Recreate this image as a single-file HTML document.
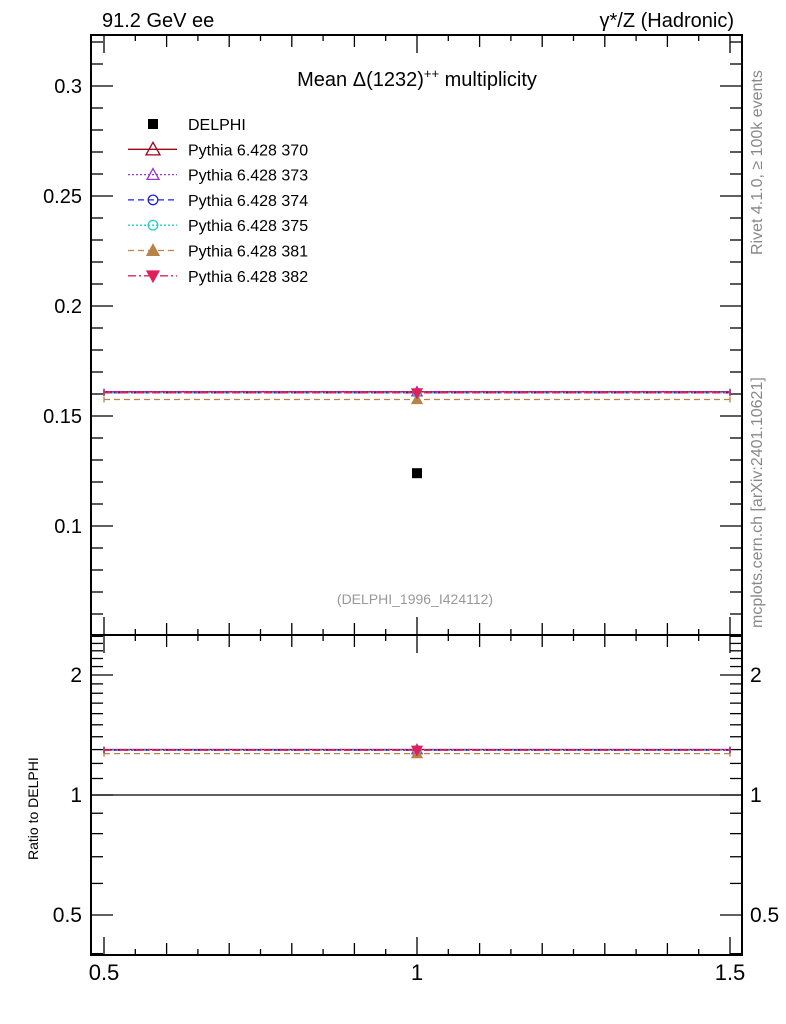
<!DOCTYPE html>
<html><head><meta charset="utf-8">
<style>
html,body{margin:0;padding:0;background:#fff;}
svg{display:block;font-family:"Liberation Sans",sans-serif;}
</style></head>
<body>
<svg id="c" width="786" height="1024" viewBox="0 0 786 1024" xmlns="http://www.w3.org/2000/svg">
<text x="102" y="27" font-size="20">91.2 GeV ee</text>
<text x="734" y="27" font-size="20" text-anchor="end">γ*/Z (Hadronic)</text>
<text x="417" y="86" font-size="20" text-anchor="middle">Mean Δ(1232)<tspan dy="-8" font-size="13">++</tspan><tspan dy="8"> multiplicity</tspan></text>
<text transform="translate(762,255) rotate(-90)" font-size="16" fill="#888">Rivet 4.1.0, ≥ 100k events</text>
<text transform="translate(762,628) rotate(-90)" font-size="16" fill="#888">mcplots.cern.ch [arXiv:2401.10621]</text>
<text x="415" y="604" font-size="14" fill="#999" text-anchor="middle">(DELPHI_1996_I424112)</text>
<text transform="translate(38,860) rotate(-90)" font-size="14">Ratio to DELPHI</text>
<g id="g"></g>
</svg>
<script>
const categories=[1.0];
const xErr=[0.5];
const dataVals=[0.124];
const seriesNames=["Pythia 6.428 370","Pythia 6.428 373","Pythia 6.428 374","Pythia 6.428 375","Pythia 6.428 381","Pythia 6.428 382"];
const seriesVals=[[0.161],[0.161],[0.1605],[0.1605],[0.1575],[0.1605]];
const ratioVals=[[1.30],[1.30],[1.295],[1.295],[1.27],[1.295]];
const mainTicks=["0.1","0.15","0.2","0.25","0.3"];
const ratioTicks=["0.5","1","2"];
const xTicks=["0.5","1","1.5"];

const L=91,R=742,T=35,M=635,B=955;
const xs=v=>104+(v-0.5)*626;
const ym=v=>526-(v-0.1)*2200;
const yr=v=>795-Math.log2(v)*120;
const styles=[
 {c:"#a00018",d:"",m:"tri",f:false},
 {c:"#9a30e0",d:"2,2",m:"tri",f:false},
 {c:"#2020e0",d:"6,4",m:"circ",f:false},
 {c:"#20d0c0",d:"2,2",m:"circ",f:false},
 {c:"#b8834a",d:"6,4",m:"tri",f:true},
 {c:"#e0205a",d:"8,3,2,3",m:"itri",f:true}];
const g=document.getElementById('g');
const NS="http://www.w3.org/2000/svg";
function el(t,a,p){const e=document.createElementNS(NS,t);for(const k in a)e.setAttribute(k,a[k]);(p||g).appendChild(e);return e;}
function marker(m,x,y,s,c,f,sz){
 let e;
 if(m==="tri"){const r=sz;e=el('polygon',{points:`${x},${y-r} ${x-r},${y+r*0.8} ${x+r},${y+r*0.8}`,fill:f?c:"none",stroke:c,'stroke-width':1.3});}
 else if(m==="itri"){const r=sz;e=el('polygon',{points:`${x},${y+r} ${x-r},${y-r*0.8} ${x+r},${y-r*0.8}`,fill:f?c:"none",stroke:c,'stroke-width':1.3});}
 else {e=el('circle',{cx:x,cy:y,r:sz*0.8,fill:"none",stroke:c,'stroke-width':1.3});}
 return e;
}
let fr=el('rect',{x:L,y:T,width:R-L,height:M-T,fill:"none",stroke:"#000",'stroke-width':2});

let fr2=el('rect',{x:L,y:M,width:R-L,height:B-M,fill:"none",stroke:"#000",'stroke-width':2});

for(let i=0;i<=20;i++){const v=0.5+i*0.05;const x=xs(v);const major=i%10===0;const len=major?18:(i%2===0?12:6);
  el('line',{x1:x,y1:T,x2:x,y2:T+len,stroke:"#000",'stroke-width':1.3});
  el('line',{x1:x,y1:B,x2:x,y2:B-len,stroke:"#000",'stroke-width':1.3});
  el('line',{x1:x,y1:M,x2:x,y2:M+len,stroke:"#000",'stroke-width':1.3});
  el('line',{x1:x,y1:M,x2:x,y2:M-len,stroke:"#000",'stroke-width':1.3});
}
xTicks.forEach(t=>{const e=el('text',{x:xs(+t),y:980,'font-size':22,'text-anchor':'middle'});e.textContent=t;
 });
for(let i=5;i<=32;i++){const v=i/100;const y=ym(v);if(y<T||y>M)continue;const major=i%5===0;const len=major?22:12;
 el('line',{x1:L,y1:y,x2:L+len,y2:y,stroke:"#000",'stroke-width':1.3});
 el('line',{x1:R,y1:y,x2:R-len,y2:y,stroke:"#000",'stroke-width':1.3});}
mainTicks.forEach(t=>{const e=el('text',{x:82,y:ym(+t)+7,'font-size':20,'text-anchor':'end'});e.textContent=t;
 });
const rmin=[0.4,0.5,0.6,0.7,0.8,0.9,1,1.1,1.2,1.3,1.4,1.5,1.6,1.7,1.8,1.9,2,2.1,2.2,2.3,2.4,2.5];
rmin.forEach(v=>{const y=yr(v);if(y<M||y>B)return;const major=(v===0.5||v===1||v===2);const len=major?22:12;
 el('line',{x1:L,y1:y,x2:L+len,y2:y,stroke:"#000",'stroke-width':1.3});
 el('line',{x1:R,y1:y,x2:R-len,y2:y,stroke:"#000",'stroke-width':1.3});});
ratioTicks.forEach(t=>{for(const [x,a] of [[82,'end'],[750,'start']]){const e=el('text',{x:x,y:yr(+t)+7,'font-size':21,'text-anchor':a});e.textContent=t;
 }});
let one=el('line',{x1:L,y1:yr(1),x2:R,y2:yr(1),stroke:"#000",'stroke-width':1.3});

seriesNames.forEach((n,si)=>{const s=styles[si];
 categories.forEach((c,ci)=>{
  for(const [vals,yf,pn] of [[seriesVals,ym,'main'],[ratioVals,yr,'ratio']]){
   const y=yf(vals[si][ci]);
   const ln=el('line',{x1:xs(c-xErr[ci]),y1:y,x2:xs(c+xErr[ci]),y2:y,stroke:s.c,'stroke-width':1.3,'stroke-dasharray':s.d});
   
   for(const xe of [xs(c-xErr[ci]),xs(c+xErr[ci])]) el('line',{x1:xe,y1:y-3,x2:xe,y2:y+3,stroke:s.c,'stroke-width':1.3});
   const mk=marker(s.m,xs(c),y,0,s.c,s.f,5);
   
  }
 });
});
categories.forEach((c,ci)=>{const r=el('rect',{x:xs(c)-5,y:ym(dataVals[ci])-5,width:10,height:10,fill:"#000"});
 });
const ly0=124,ldy=25.3;
let lr=el('rect',{x:148,y:ly0-5,width:10,height:10,fill:"#000"});

let lt=el('text',{x:188,y:ly0+6,'font-size':16});lt.textContent="DELPHI";

seriesNames.forEach((n,i)=>{const s=styles[i];const y=ly0+(i+1)*ldy;
 el('line',{x1:128,y1:y,x2:177,y2:y,stroke:s.c,'stroke-width':1.3,'stroke-dasharray':s.d});
 marker(s.m,153,y,0,s.c,s.f,i===0?7:6);
 const t=el('text',{x:188,y:y+6,'font-size':16});t.textContent=n;
 });
</script>
</body></html>
